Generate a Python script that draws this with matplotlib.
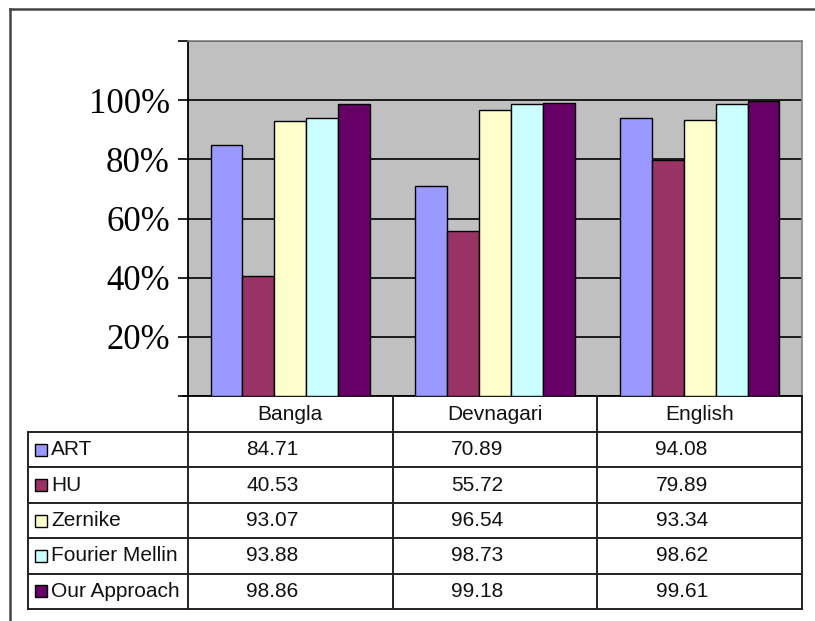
import numpy as np
import matplotlib
matplotlib.use("Agg")
import matplotlib.pyplot as plt
from matplotlib.patches import Rectangle

categories = ["Bangla", "Devnagari", "English"]
methods = ["ART", "HU", "Zernike", "Fourier Mellin", "Our Approach"]
art = [84.71, 70.89, 94.08]
hu = [40.53, 55.72, 79.89]
zernike = [93.07, 96.54, 93.34]
fourier_mellin = [93.88, 98.73, 98.62]
our_approach = [98.86, 99.18, 99.61]
series = [art, hu, zernike, fourier_mellin, our_approach]
colors = ["#9999FF", "#993366", "#FFFFCC", "#CCFFFF", "#660066"]
yticks = [0, 20, 40, 60, 80, 100, 120]
ylabels = ["", "20%", "40%", "60%", "80%", "100%", ""]

W, H = 815, 621
fig = plt.figure(figsize=(W / 100, H / 100), dpi=100)

# plot area in pixel terms
x0, x1, ytop, ybot = 188, 802, 41, 396
ax = fig.add_axes([x0 / W, 1 - ybot / H, (x1 - x0) / W, (ybot - ytop) / H])
ax.set_facecolor("#C0C0C0")

bw = 0.156
x = np.arange(len(categories))
for i, (vals, c) in enumerate(zip(series, colors)):
    ax.bar(x + (i - 2) * bw, vals, bw, color=c, edgecolor="black", linewidth=1.0, zorder=3)

ax.set_xlim(-0.5, 2.5)
ax.set_ylim(0, 120)
ax.set_yticks(yticks)
ax.set_yticklabels(ylabels, fontsize=25, family="Liberation Serif")
ax.set_xticks([])
ax.tick_params(axis="y", direction="out", length=7, width=1.2, pad=6, colors="black")
ax.yaxis.grid(True, color="black", linewidth=1.2)
ax.set_axisbelow(True)
for s in ["top", "right"]:
    ax.spines[s].set_color("#808080")
    ax.spines[s].set_linewidth(1.2)
ax.spines["left"].set_linewidth(1.3)
ax.spines["bottom"].set_linewidth(1.3)

# overlay for data table and outer frame, pixel coordinates
ov = fig.add_axes([0, 0, 1, 1])
ov.set_xlim(0, W)
ov.set_ylim(H, 0)
ov.axis("off")
ov.patch.set_visible(False)

lc = "#222222"
ov.plot([10, W], [9, 9], color="#444444", lw=1.8)
ov.plot([10, 10], [9, H], color="#444444", lw=1.8)

col_edges = np.linspace(x0, x1, len(categories) + 1)
row_edges = np.linspace(432, 609, len(methods) + 1)
lx = 28

for cx in col_edges:
    ov.plot([cx, cx], [ybot, row_edges[-1]], color=lc, lw=1.4)
ov.plot([lx, lx], [row_edges[0], row_edges[-1]], color=lc, lw=1.4)
for ry in row_edges:
    ov.plot([lx, x1], [ry, ry], color=lc, lw=1.4)
ov.plot([183, x0], [ybot, ybot], color="black", lw=1.3)

tfont = dict(fontsize=15, family="Liberation Sans", color="#111111")
for j, cat in enumerate(categories):
    cxm = (col_edges[j] + col_edges[j + 1]) / 2
    ov.text(cxm, (ybot + row_edges[0]) / 2, cat, ha="center", va="center", **tfont)

for i, (name, vals, c) in enumerate(zip(methods, series, colors)):
    cy = (row_edges[i] + row_edges[i + 1]) / 2
    ov.add_patch(Rectangle((35, cy - 6), 12, 12, facecolor=c, edgecolor="black", lw=1))
    ov.text(51, cy, name, ha="left", va="center", **tfont)
    for j, v in enumerate(vals):
        cxm = (col_edges[j] + col_edges[j + 1]) / 2 - 18
        ov.text(cxm, cy, f"{v:.2f}", ha="center", va="center", **tfont)

fig.savefig("out.png", dpi=100)
